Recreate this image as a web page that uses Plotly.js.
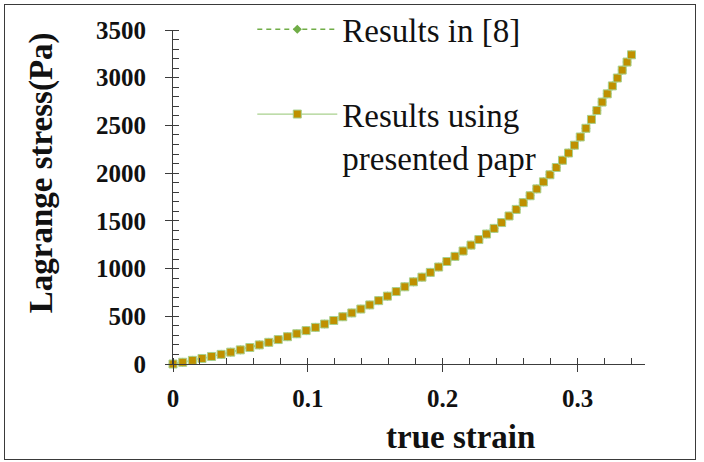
<!DOCTYPE html>
<html>
<head>
<meta charset="utf-8">
<script src="https://cdn.plot.ly/plotly-3.0.1.min.js"></script>
<style>
  html, body { margin: 0; padding: 0; background: #ffffff; }
  #wrap { position: relative; width: 704px; height: 462px; }
  #chart { position: absolute; left: 0; top: 0; width: 704px; height: 462px; }
  #frame {
    position: absolute; left: 4px; top: 4px; width: 690px; height: 454px;
    border: 1px solid #3a3a3a; pointer-events: none;
  }
</style>
</head>
<body>
<div id="wrap">
  <div id="chart"></div>
  <div id="frame"></div>
</div>
<script>
// True strain samples (shared by both result sets)
const trueStrain = [
  0, 0.0072, 0.0144, 0.0215, 0.0286, 0.0357, 0.0428, 0.0499, 0.0570, 0.0640,
  0.0710, 0.0780, 0.0849, 0.0918, 0.0987, 0.1056, 0.1124, 0.1192, 0.1259, 0.1326,
  0.1393, 0.1459, 0.1525, 0.1590, 0.1655, 0.1719, 0.1783, 0.1846, 0.1908, 0.1970,
  0.2031, 0.2091, 0.2151, 0.2210, 0.2268, 0.2325, 0.2381, 0.2437, 0.2492, 0.2545,
  0.2597, 0.2648, 0.2698, 0.2747, 0.2795, 0.2842, 0.2888, 0.2933, 0.2977, 0.3020,
  0.3062, 0.3103, 0.3143, 0.3182, 0.3220, 0.3258, 0.3295, 0.3331, 0.3367, 0.3400
];

// Lagrange stress (Pa) reported in reference [8]
const stressRef8 = [
  0, 18, 38, 58, 79, 101, 124, 148, 173, 200,
  227, 256, 286, 317, 350, 384, 419, 456, 495, 535,
  576, 619, 664, 711, 759, 809, 861, 910, 960, 1016,
  1074, 1128, 1184, 1246, 1304, 1362, 1421, 1482, 1551, 1620,
  1691, 1763, 1835, 1909, 1983, 2059, 2135, 2211, 2293, 2379,
  2470, 2563, 2656, 2745, 2831, 2914, 2997, 3080, 3164, 3240
];

// Lagrange stress (Pa) from the presented model
const stressPresent = [
  0, 18, 38, 58, 79, 101, 124, 148, 173, 200,
  227, 256, 286, 317, 350, 384, 419, 456, 495, 535,
  576, 619, 664, 711, 759, 809, 861, 910, 960, 1016,
  1074, 1128, 1184, 1246, 1304, 1362, 1421, 1482, 1551, 1620,
  1691, 1763, 1835, 1909, 1983, 2059, 2135, 2211, 2293, 2379,
  2470, 2563, 2656, 2745, 2831, 2914, 2997, 3080, 3164, 3240
];

const seriesNames = ['Results in [8]', 'Results using<br>presented papr'];
const axisTitles = { x: 'true strain', y: 'Lagrange stress(Pa)' };

const serif = 'Liberation Serif, Times New Roman, serif';
const axisColor = '#3c3c3c';

const traces = [
  {
    x: trueStrain, y: stressRef8, name: seriesNames[0],
    type: 'scatter', mode: 'lines+markers', legend: 'legend',
    line: { color: '#70AD47', width: 1.5, dash: '5px,4px' },
    marker: { symbol: 'diamond', size: 7, color: '#70AD47' },
    cliponaxis: false
  },
  {
    x: trueStrain, y: stressPresent, name: seriesNames[1],
    type: 'scatter', mode: 'lines+markers', legend: 'legend2',
    line: { color: '#A9D18E', width: 1.2 },
    marker: { symbol: 'square', size: 8, color: '#BF9000',
              line: { color: '#A9D18E', width: 1 } },
    cliponaxis: false
  }
];

const legendBase = {
  xanchor: 'left', yanchor: 'top', valign: 'top',
  bgcolor: 'rgba(0,0,0,0)', borderwidth: 0, itemwidth: 80,
  font: { family: serif, size: 33, color: '#111111' }
};

const layout = {
  width: 704, height: 462,
  margin: { l: 173, r: 59, t: 30, b: 98, autoexpand: false },
  paper_bgcolor: '#ffffff', plot_bgcolor: '#ffffff',
  showlegend: true,
  legend: Object.assign({ x: 0.168, y: 1.086 }, legendBase),
  legend2: Object.assign({ x: 0.168, y: 0.832 }, legendBase),
  xaxis: {
    range: [0, 0.35], tick0: 0, dtick: 0.1,
    showgrid: false, zeroline: false,
    showline: true, linecolor: axisColor, linewidth: 1,
    ticks: 'outside', ticklen: 7, tickwidth: 1, tickcolor: axisColor,
    ticklabelstandoff: 5,
    tickfont: { family: serif, size: 25, color: '#111111', weight: 'bold' },
    minor: { dtick: 0.02, ticks: 'inside', ticklen: 6, tickwidth: 1, tickcolor: axisColor, showgrid: false }
  },
  yaxis: {
    range: [0, 3500], tick0: 0, dtick: 500,
    showgrid: false, zeroline: false,
    showline: true, linecolor: axisColor, linewidth: 1,
    ticks: 'outside', ticklen: 7, tickwidth: 1, tickcolor: axisColor,
    ticklabelstandoff: 14,
    tickfont: { family: serif, size: 25, color: '#111111', weight: 'bold' },
    minor: { dtick: 100, ticks: 'inside', ticklen: 6, tickwidth: 1, tickcolor: axisColor, showgrid: false }
  },
  annotations: [
    {
      text: axisTitles.x, xref: 'paper', yref: 'paper', x: 0.61, y: -0.219,
      xanchor: 'center', yanchor: 'middle', showarrow: false,
      font: { family: serif, size: 33, color: '#111111', weight: 'bold' }
    },
    {
      text: axisTitles.y, xref: 'paper', yref: 'paper', x: -0.277, y: 0.572,
      xanchor: 'center', yanchor: 'middle', showarrow: false, textangle: -90,
      font: { family: serif, size: 33, color: '#111111', weight: 'bold' }
    }
  ]
};

Plotly.newPlot('chart', traces, layout, { displayModeBar: false, staticPlot: true });
</script>
</body>
</html>
